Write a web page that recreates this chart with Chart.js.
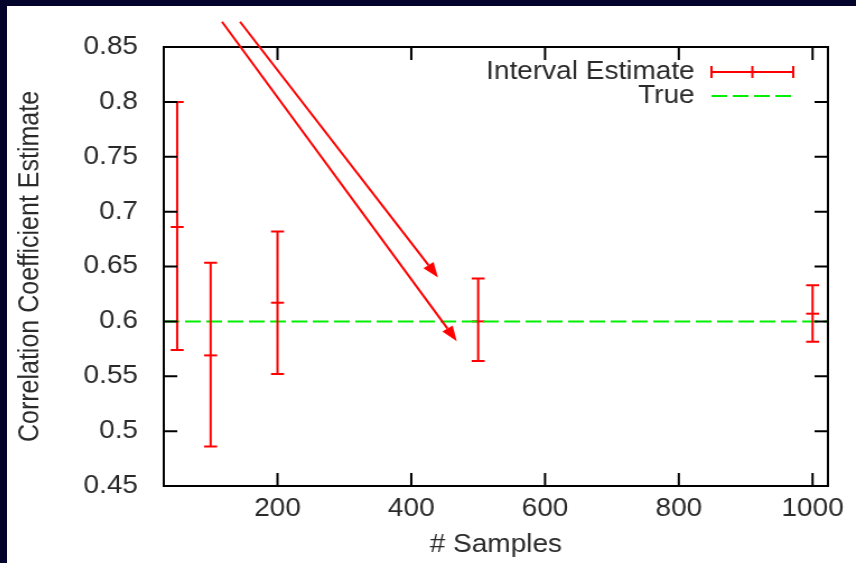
<!DOCTYPE html>
<html>
<head>
<meta charset="utf-8">
<script src="https://cdn.jsdelivr.net/npm/chart.js@4.4.1/dist/chart.umd.min.js"></script>
<style>
  html, body { margin: 0; padding: 0; }
  body { width: 856px; height: 563px; background: #03032b; overflow: hidden; position: relative; }
  #sheet { position: absolute; left: 7px; top: 6px; width: 849px; height: 557px; background: #fff; overflow: hidden; }
  /* the plot is laid out narrow and widened, the way the slide figure was */
  #wide { width: 758px; height: 557px; transform: scaleX(1.12); transform-origin: 0 0; }
</style>
</head>
<body>
<div id="sheet"><div id="wide"><canvas id="chart" width="758" height="557"></canvas></div></div>
<script>
var samples = [50, 100, 200, 500, 1000];
var estLow  = [0.574, 0.486, 0.552, 0.564, 0.5815];
var estMean = [0.686, 0.569, 0.617, 0.600, 0.607];
var estHigh = [0.800, 0.6535, 0.682, 0.639, 0.633];
var trueValue = 0.6;

var xTicks = [200, 400, 600, 800, 1000];
var yTicks = [0.45, 0.5, 0.55, 0.6, 0.65, 0.7, 0.75, 0.8, 0.85];
var xRange = [30, 1023];
var yRange = [0.45, 0.85];

// red pointer arrows, data units: [x0, y0, x1, y1]
var arrows = [
  [117, 0.873, 468, 0.582],
  [144, 0.873, 440, 0.640]
];

var RED = '#ff0000';
var GREEN = '#00ee00';
var INK = '#2a2a2a';
var FONT = { family: '"Liberation Sans", Arial, sans-serif', size: 25 };
var DASH = [14, 5];

// gnuplot-like frame: box plus inward ticks on all four sides
var framePlugin = {
  id: 'frame',
  afterDraw: function(chart) {
    var ctx = chart.ctx, a = chart.chartArea;
    var xs = chart.scales.x, ys = chart.scales.y;
    ctx.save();
    ctx.strokeStyle = '#000';
    ctx.lineWidth = 2;
    ctx.beginPath();
    xTicks.forEach(function(v) {
      var px = xs.getPixelForValue(v);
      ctx.moveTo(px, a.bottom); ctx.lineTo(px, a.bottom - 13);
      ctx.moveTo(px, a.top); ctx.lineTo(px, a.top + 13);
    });
    yTicks.forEach(function(v) {
      var py = ys.getPixelForValue(v);
      ctx.moveTo(a.left, py); ctx.lineTo(a.left + 12, py);
      ctx.moveTo(a.right, py); ctx.lineTo(a.right - 12, py);
    });
    ctx.stroke();
    ctx.strokeRect(a.left, a.top, a.right - a.left, a.bottom - a.top);
    ctx.restore();
  }
};

// vertical interval bars with end caps
var errorBarPlugin = {
  id: 'errorBars',
  afterDatasetsDraw: function(chart) {
    var ctx = chart.ctx;
    var xs = chart.scales.x, ys = chart.scales.y;
    var cap = 5.8;
    ctx.save();
    ctx.strokeStyle = RED;
    ctx.lineWidth = 2;
    ctx.beginPath();
    for (var i = 0; i < samples.length; i++) {
      var px = xs.getPixelForValue(samples[i]);
      var lo = ys.getPixelForValue(estLow[i]);
      var hi = ys.getPixelForValue(estHigh[i]);
      ctx.moveTo(px, lo); ctx.lineTo(px, hi);
      ctx.moveTo(px - cap, lo); ctx.lineTo(px + cap, lo);
      ctx.moveTo(px - cap, hi); ctx.lineTo(px + cap, hi);
    }
    ctx.stroke();
    ctx.restore();
  }
};

var arrowPlugin = {
  id: 'arrows',
  afterDraw: function(chart) {
    var ctx = chart.ctx;
    var xs = chart.scales.x, ys = chart.scales.y;
    ctx.save();
    ctx.strokeStyle = RED;
    ctx.fillStyle = RED;
    ctx.lineWidth = 2;
    arrows.forEach(function(ar) {
      var x0 = xs.getPixelForValue(ar[0]), y0 = ys.getPixelForValue(ar[1]);
      var x1 = xs.getPixelForValue(ar[2]), y1 = ys.getPixelForValue(ar[3]);
      var ang = Math.atan2(y1 - y0, x1 - x0);
      var len = 15, half = 5.5;
      var bx = x1 - len * Math.cos(ang), by = y1 - len * Math.sin(ang);
      ctx.beginPath();
      ctx.moveTo(x0, y0); ctx.lineTo(bx, by);
      ctx.stroke();
      ctx.beginPath();
      ctx.moveTo(x1, y1);
      ctx.lineTo(bx + half * Math.sin(ang), by - half * Math.cos(ang));
      ctx.lineTo(bx - half * Math.sin(ang), by + half * Math.cos(ang));
      ctx.closePath();
      ctx.fill();
    });
    ctx.restore();
  }
};

// key in the top right corner, gnuplot style
var keyPlugin = {
  id: 'key',
  afterDraw: function(chart) {
    var ctx = chart.ctx;
    var textRight = 614, x0 = 629, x1 = 702;
    var rowA = 66, rowB = 90;
    ctx.save();
    ctx.font = FONT.size + 'px ' + FONT.family;
    ctx.fillStyle = INK;
    ctx.textAlign = 'right';
    ctx.textBaseline = 'middle';
    ctx.fillText(chart.data.datasets[1].label, textRight, rowA);
    ctx.fillText(chart.data.datasets[0].label, textRight, rowB);

    ctx.strokeStyle = RED;
    ctx.lineWidth = 2;
    ctx.beginPath();
    ctx.moveTo(x0, rowA); ctx.lineTo(x1, rowA);
    [x0, (x0 + x1) / 2, x1].forEach(function(x) {
      ctx.moveTo(x, rowA - 6); ctx.lineTo(x, rowA + 6);
    });
    ctx.stroke();

    ctx.strokeStyle = GREEN;
    ctx.setLineDash(DASH);
    ctx.beginPath();
    ctx.moveTo(x0, rowB); ctx.lineTo(x1, rowB);
    ctx.stroke();
    ctx.restore();
  }
};

var meanPoints = samples.map(function(s, i) { return { x: s, y: estMean[i] }; });

new Chart(document.getElementById('chart'), {
  type: 'scatter',
  data: {
    datasets: [
      {
        label: 'True',
        data: [{ x: xRange[0], y: trueValue }, { x: xRange[1], y: trueValue }],
        showLine: true,
        borderColor: GREEN,
        borderWidth: 2,
        borderDash: DASH,
        pointRadius: 0
      },
      {
        label: 'Interval Estimate',
        data: meanPoints,
        pointStyle: 'line',
        pointRadius: 5.8,
        borderColor: RED,
        backgroundColor: RED,
        borderWidth: 2
      }
    ]
  },
  options: {
    responsive: false,
    animation: false,
    events: [],
    layout: { padding: { top: 41, right: 25, left: 0, bottom: 0 } },
    plugins: { legend: { display: false }, tooltip: { enabled: false } },
    scales: {
      x: {
        type: 'linear',
        min: xRange[0],
        max: xRange[1],
        afterBuildTicks: function(s) { s.ticks = xTicks.map(function(v) { return { value: v }; }); },
        afterFit: function(s) { s.height = 77; },
        grid: { display: false },
        border: { display: false },
        ticks: { font: FONT, color: INK, padding: 0, maxRotation: 0, autoSkip: false,
                 callback: function(v) { return String(v); } },
        title: { display: true, text: '# Samples', font: FONT, color: INK, padding: { top: 0, bottom: 3 } }
      },
      y: {
        type: 'linear',
        min: yRange[0],
        max: yRange[1],
        afterBuildTicks: function(s) { s.ticks = yTicks.map(function(v) { return { value: v }; }); },
        afterFit: function(s) { s.width = 140; },
        grid: { display: false },
        border: { display: false },
        ticks: { font: FONT, color: INK, padding: 15, autoSkip: false,
                 callback: function(v) { return String(v); } },
        title: { display: true, text: 'Correlation Coefficient Estimate', font: FONT, color: INK, padding: { top: 6, bottom: 0 } }
      }
    }
  },
  plugins: [errorBarPlugin, framePlugin, arrowPlugin, keyPlugin]
});
</script>
</body>
</html>
